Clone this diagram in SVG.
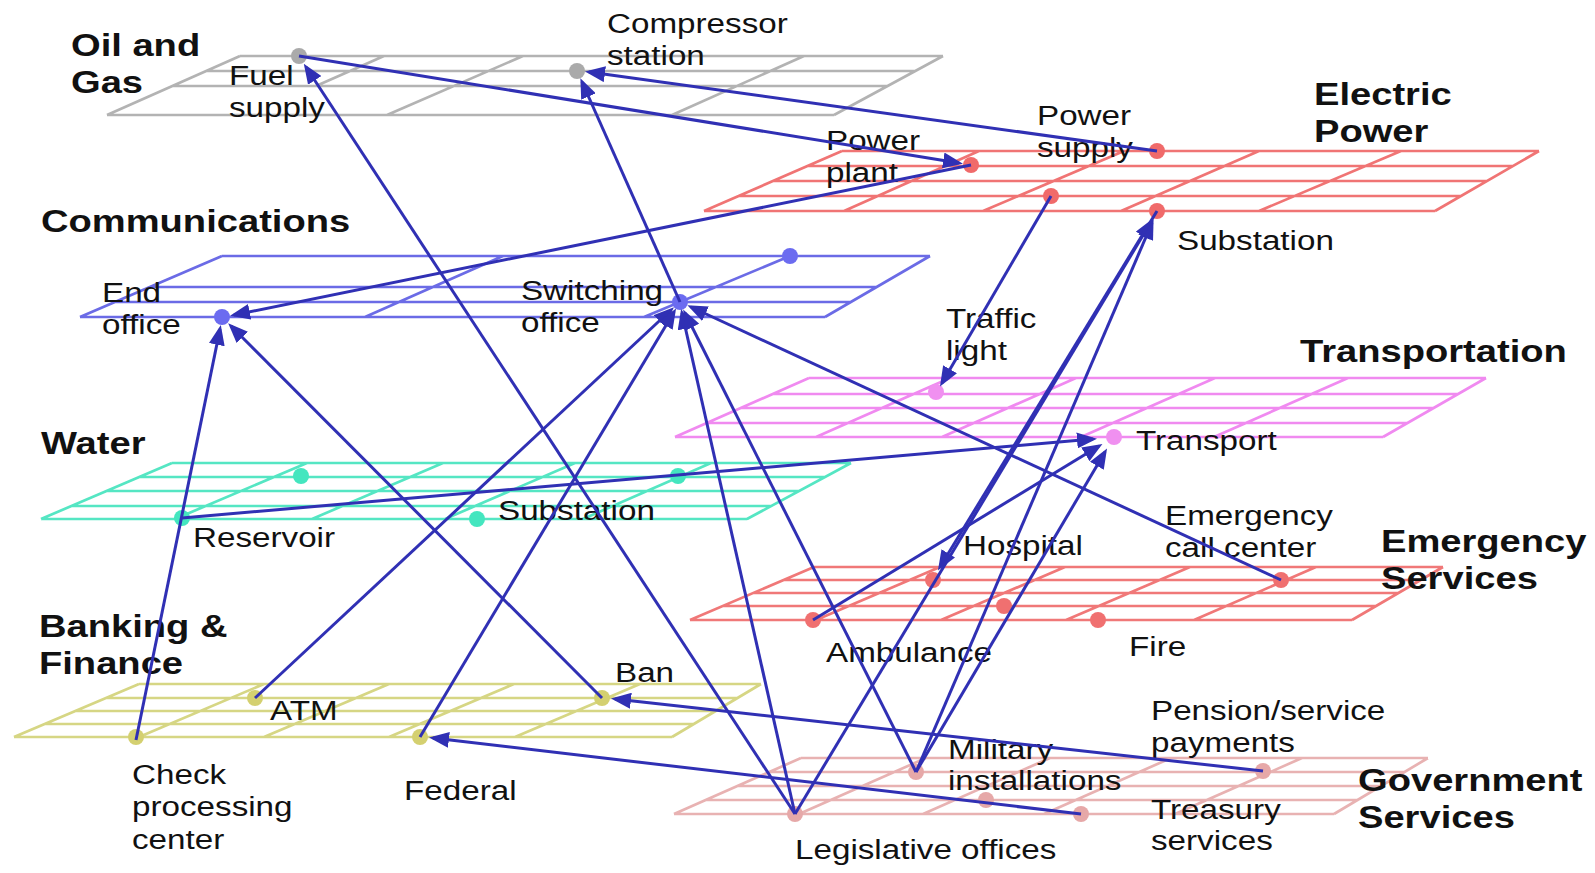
<svg xmlns="http://www.w3.org/2000/svg" width="1595" height="873" viewBox="0 0 1595 873">
<style>
.g{fill:none;stroke-width:2.7;stroke-linejoin:miter}
.t{font-family:"Liberation Sans",Arial,sans-serif;font-size:27px;fill:#111}
.h{font-family:"Liberation Sans",Arial,sans-serif;font-size:31px;font-weight:bold;fill:#111}
.c{fill:none;stroke:#3030b4;stroke-width:3;marker-end:url(#ah)}
</style>
<defs>
<marker id="ah" markerUnits="userSpaceOnUse" markerWidth="20" markerHeight="16" refX="16" refY="8" orient="auto">
<path d="M0,0 L20,8 L0,16 z" fill="#3030b4"/>
</marker>
</defs>
<rect width="1595" height="873" fill="#fff"/>

<g id="oil-gas">
<path class="g" stroke="#b3b3b3" d="M240,56 H943 M206,71 H915 M172,86 H888 M107,115 H834 M240,56 L107,115 M943,56 L834,115 M523,56 L387,115 M804,56 L672,115 M384,56 L316,86"/>
<circle cx="299" cy="56" r="8" fill="#aaaaaa"/>
<circle cx="577" cy="71" r="8" fill="#aaaaaa"/>
<text class="h" transform="translate(71 56) scale(1.23 1)"><tspan x="0">Oil and</tspan><tspan x="0" dy="37.5">Gas</tspan></text>
<text class="t" transform="translate(229 85) scale(1.23 1)"><tspan x="0">Fuel</tspan><tspan x="0" dy="32.5">supply</tspan></text>
<text class="t" transform="translate(607 33) scale(1.23 1)"><tspan x="0">Compressor</tspan><tspan x="0" dy="32.5">station</tspan></text>
</g>

<g id="electric-power">
<path class="g" stroke="#f07474" d="M842,151 H1539 M807,166 H1513 M773,181 H1487 M738,196 H1461 M704,211 H1435 M842,151 L704,211 M1539,151 L1435,211 M979,151 L844,211 M1124,151 L983,211 M1259,151 L1121,211 M1401,151 L1259,211"/>
<circle cx="971" cy="165" r="8" fill="#f06a6a"/>
<circle cx="1157" cy="151" r="8" fill="#f06a6a"/>
<circle cx="1051" cy="196" r="8" fill="#f06a6a"/>
<circle cx="1157" cy="211" r="8" fill="#f06a6a"/>
<text class="h" transform="translate(1314 105) scale(1.23 1)"><tspan x="0">Electric</tspan><tspan x="0" dy="37.5">Power</tspan></text>
<text class="t" transform="translate(1037 125) scale(1.23 1)"><tspan x="0">Power</tspan><tspan x="0" dy="32.5">supply</tspan></text>
<text class="t" transform="translate(826 150) scale(1.23 1)"><tspan x="0">Power</tspan><tspan x="0" dy="32.5">plant</tspan></text>
<text class="t" transform="translate(1177 250) scale(1.23 1)">Substation</text>
</g>

<g id="communications">
<path class="g" stroke="#6b6be6" d="M222,256 H930 M150,287 H877 M115,302 H851 M80,317 H825 M222,256 L80,317 M930,256 L825,317 M503,256 L365,317 M790,256 L644,317"/>
<circle cx="790" cy="256" r="8" fill="#6b6bf0"/>
<circle cx="680" cy="302" r="8" fill="#6b6bf0"/>
<circle cx="222" cy="317" r="8" fill="#6b6bf0"/>
<text class="h" transform="translate(41 232) scale(1.23 1)">Communications</text>
<text class="t" transform="translate(102 302) scale(1.23 1)"><tspan x="0">End</tspan><tspan x="0" dy="32.5">office</tspan></text>
<text class="t" transform="translate(521 300) scale(1.23 1)"><tspan x="0">Switching</tspan><tspan x="0" dy="32.5">office</tspan></text>
</g>

<g id="transportation">
<path class="g" stroke="#f08af0" d="M809,378 H1486 M773,394 H1458 M741,408 H1434 M707,423 H1407 M675,437 H1383 M809,378 L675,437 M1486,378 L1383,437 M950,378 L816,437 M1076,378 L942,437 M1215,378 L1081,437 M1348,378 L1214,437"/>
<circle cx="936" cy="392" r="8" fill="#f090f0"/>
<circle cx="1114" cy="437" r="8" fill="#f090f0"/>
<text class="h" transform="translate(1300 362) scale(1.23 1)">Transportation</text>
<text class="t" transform="translate(946 328) scale(1.23 1)"><tspan x="0">Traffic</tspan><tspan x="0" dy="32.5">light</tspan></text>
<text class="t" transform="translate(1136 450) scale(1.23 1)">Transport</text>
</g>

<g id="water">
<path class="g" stroke="#55e6c3" d="M172,463 H851 M139,477 H825 M107,491 H799 M71,506 H771 M41,519 H747 M172,463 L41,519 M851,463 L747,519 M307,463 L175,519 M443,463 L312,519 M575,463 L445,519 M711,463 L583,519"/>
<circle cx="301" cy="476" r="8" fill="#44e6bf"/>
<circle cx="678" cy="476" r="8" fill="#44e6bf"/>
<circle cx="182" cy="518" r="8" fill="#44e6bf"/>
<circle cx="477" cy="519" r="8" fill="#44e6bf"/>
<text class="h" transform="translate(41 454) scale(1.23 1)">Water</text>
<text class="t" transform="translate(193 547) scale(1.23 1)">Reservoir</text>
<text class="t" transform="translate(498 520) scale(1.23 1)">Substation</text>
</g>

<g id="emergency-services">
<path class="g" stroke="#f07878" d="M814,567 H1443 M784,580 H1421 M753,593 H1398 M723,606 H1376 M690,620 H1352 M814,567 L690,620 M1443,567 L1352,620 M940,567 L816,620 M1065,567 L941,620 M1190,567 L1066,620 M1316,567 L1194,620"/>
<circle cx="933" cy="580" r="8" fill="#f07070"/>
<circle cx="1004" cy="606" r="8" fill="#f07070"/>
<circle cx="813" cy="620" r="8" fill="#f07070"/>
<circle cx="1098" cy="620" r="8" fill="#f07070"/>
<circle cx="1281" cy="580" r="8" fill="#f07070"/>
<text class="h" transform="translate(1381 552) scale(1.23 1)"><tspan x="0">Emergency</tspan><tspan x="0" dy="37.5">Services</tspan></text>
<text class="t" transform="translate(963 555) scale(1.23 1)">Hospital</text>
<text class="t" transform="translate(1165 525) scale(1.23 1)"><tspan x="0">Emergency</tspan><tspan x="0" dy="32.5">call center</tspan></text>
<text class="t" transform="translate(826 662) scale(1.23 1)">Ambulance</text>
<text class="t" transform="translate(1129 656) scale(1.23 1)">Fire</text>
</g>

<g id="banking-finance">
<path class="g" stroke="#d6d684" d="M139,684 H761 M106,698 H738 M75,711 H716 M45,724 H694 M14,737 H672 M139,684 L14,737 M761,684 L672,737 M264,684 L139,737 M389,684 L264,737 M514,684 L389,737 M640,684 L515,737"/>
<circle cx="136" cy="737" r="8" fill="#d4d070"/>
<circle cx="255" cy="698" r="8" fill="#d4d070"/>
<circle cx="420" cy="737" r="8" fill="#d4d070"/>
<circle cx="602" cy="698" r="8" fill="#d4d070"/>
<text class="h" transform="translate(39 637) scale(1.23 1)"><tspan x="0">Banking &amp;</tspan><tspan x="0" dy="37.5">Finance</tspan></text>
<text class="t" transform="translate(615 682) scale(1.23 1)">Ban</text>
<text class="t" transform="translate(270 720) scale(1.23 1)">ATM</text>
<text class="t" transform="translate(132 784) scale(1.23 1)"><tspan x="0">Check</tspan><tspan x="0" dy="32.5">processing</tspan><tspan x="0" dy="32.5">center</tspan></text>
<text class="t" transform="translate(404 800) scale(1.23 1)">Federal</text>
</g>

<g id="government-services">
<path class="g" stroke="#e8b2b2" d="M801,758 H1428 M769,772 H1405 M738,786 H1381 M706,800 H1358 M674,814 H1334 M801,758 L674,814 M1428,758 L1334,814 M926,758 L799,814 M1050,758 L923,814 M1171,758 L1044,814 M1302,758 L1175,814"/>
<circle cx="795" cy="814" r="8" fill="#e6a8a8"/>
<circle cx="916" cy="772" r="8" fill="#e6a8a8"/>
<circle cx="986" cy="800" r="8" fill="#e6a8a8"/>
<circle cx="1263" cy="771" r="8" fill="#e6a8a8"/>
<circle cx="1081" cy="814" r="8" fill="#e6a8a8"/>
<text class="h" transform="translate(1358 791) scale(1.23 1)"><tspan x="0">Government</tspan><tspan x="0" dy="37.5">Services</tspan></text>
<text class="t" transform="translate(1151 720) scale(1.23 1)"><tspan x="0">Pension/service</tspan><tspan x="0" dy="32.5">payments</tspan></text>
<text class="t" transform="translate(948 759) scale(1.23 1)"><tspan x="0">Military</tspan><tspan x="0" dy="31">installations</tspan></text>
<text class="t" transform="translate(1151 819) scale(1.23 1)"><tspan x="0">Treasury</tspan><tspan x="0" dy="31">services</tspan></text>
<text class="t" transform="translate(795 859) scale(1.23 1)">Legislative offices</text>
</g>

<g id="connectors">
<line class="c" x1="299" y1="56" x2="959" y2="163"/>
<line class="c" x1="1157" y1="151" x2="589" y2="72"/>
<line class="c" x1="971" y1="165" x2="234" y2="315"/>
<line class="c" x1="680" y1="302" x2="582" y2="82"/>
<line class="c" x1="1051" y1="196" x2="942" y2="383"/>
<line class="c" x1="136" y1="740" x2="220" y2="329"/>
<line class="c" x1="602" y1="698" x2="231" y2="326"/>
<line class="c" x1="255" y1="698" x2="671" y2="310"/>
<line class="c" x1="420" y1="737" x2="674" y2="312"/>
<line class="c" x1="795" y1="814" x2="682" y2="313"/>
<line class="c" x1="916" y1="772" x2="685" y2="313"/>
<line class="c" x1="1281" y1="580" x2="691" y2="307"/>
<line class="c" x1="182" y1="518" x2="1093" y2="439"/>
<line class="c" x1="813" y1="620" x2="1099" y2="446"/>
<line class="c" x1="916" y1="772" x2="1105" y2="452"/>
<line class="c" x1="916" y1="772" x2="1152" y2="223"/>
<line class="c" x1="795" y1="814" x2="1151" y2="222"/>
<line class="c" x1="1157" y1="211" x2="940" y2="567"/>
<line class="c" x1="795" y1="814" x2="306" y2="67"/>
<line class="c" x1="1263" y1="771" x2="615" y2="699"/>
<line class="c" x1="1081" y1="814" x2="433" y2="738"/>
</g>
</svg>
